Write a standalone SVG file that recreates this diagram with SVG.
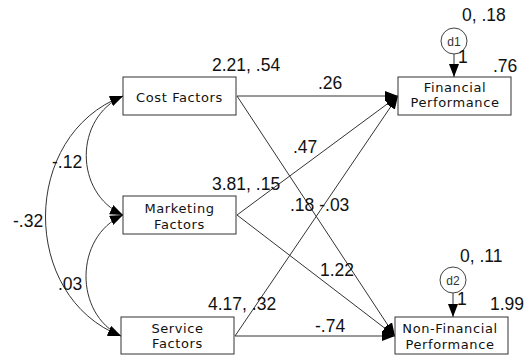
<svg xmlns="http://www.w3.org/2000/svg" width="530" height="357" viewBox="0 0 530 357">
<defs>
<marker id="ah" markerUnits="userSpaceOnUse" markerWidth="14" markerHeight="11" refX="13" refY="5" orient="auto-start-reverse">
<path d="M0,0 L13,5 L0,10 z" fill="#000"/>
</marker>
<style>
.box{fill:#fff;stroke:#333;stroke-width:1}
.lbl{font-family:"DejaVu Sans",sans-serif;font-size:13px;letter-spacing:0.6px;fill:#111;text-anchor:middle}
.num{font-family:"Liberation Sans",Arial,sans-serif;font-size:17.5px;fill:#111}
.ln{fill:none;stroke:#333;stroke-width:1}
.err{fill:#fff;stroke:#444;stroke-width:1}
.et{font-family:"Liberation Sans",Arial,sans-serif;font-size:12px;fill:#333;text-anchor:middle}
</style>
</defs>
<rect width="530" height="357" fill="#fff"/>
<g id="connectors">
<line class="ln" x1="237" y1="96" x2="398" y2="96" marker-end="url(#ah)"/>
<line class="ln" x1="237" y1="96" x2="395" y2="336" marker-end="url(#ah)"/>
<line class="ln" x1="237" y1="215" x2="398" y2="96" marker-end="url(#ah)"/>
<line class="ln" x1="237" y1="215" x2="395" y2="336" marker-end="url(#ah)"/>
<line class="ln" x1="235" y1="336" x2="398" y2="96" marker-end="url(#ah)"/>
<line class="ln" x1="235" y1="336" x2="395" y2="336" marker-end="url(#ah)"/>
<line class="ln" x1="454" y1="54" x2="454" y2="77" marker-end="url(#ah)"/>
<line class="ln" x1="453" y1="293" x2="453" y2="317" marker-end="url(#ah)"/>
<path class="ln" d="M123,96 C74,118 74,193 123,215" marker-start="url(#ah)" marker-end="url(#ah)"/>
<path class="ln" d="M123,215 C74,237 74,314 121,336" marker-start="url(#ah)" marker-end="url(#ah)"/>
<path class="ln" d="M123,96 C20,135 20,297 121,336" marker-start="url(#ah)" marker-end="url(#ah)"/>
</g>
<g id="cost">
<rect class="box" x="123" y="77" width="113" height="38"/>
<text class="lbl" x="179.5" y="101.5">Cost Factors</text>
<text class="num" x="212" y="71">2.21, .54</text>
</g>
<g id="marketing">
<rect class="box" x="123" y="196" width="113" height="38"/>
<text class="lbl" x="179.5" y="213">Marketing</text>
<text class="lbl" x="179.5" y="228.5">Factors</text>
<text class="num" x="212" y="190">3.81, .15</text>
</g>
<g id="service">
<rect class="box" x="121" y="317" width="113" height="37"/>
<text class="lbl" x="177.5" y="332.5">Service</text>
<text class="lbl" x="177.5" y="348">Factors</text>
<text class="num" x="208" y="310">4.17, .32</text>
</g>
<g id="financial">
<rect class="box" x="398" y="77" width="113" height="38"/>
<text class="lbl" x="455" y="91.5">Financial</text>
<text class="lbl" x="455" y="107">Performance</text>
<text class="num" x="493" y="72">.76</text>
</g>
<g id="nonfinancial">
<rect class="box" x="395" y="317" width="113" height="37"/>
<text class="lbl" x="450" y="333">Non-Financial</text>
<text class="lbl" x="450" y="348.5">Performance</text>
<text class="num" x="490" y="310">1.99</text>
</g>
<g id="d1">
<circle class="err" cx="454" cy="41" r="13"/>
<text class="et" x="454" y="45.5">d1</text>
<text class="num" x="462" y="21">0, .18</text>
<text class="num" x="458" y="63">1</text>
</g>
<g id="d2">
<circle class="err" cx="453" cy="280" r="13"/>
<text class="et" x="453" y="284.5">d2</text>
<text class="num" x="460" y="262">0, .11</text>
<text class="num" x="457" y="305">1</text>
</g>
<g id="edge-labels">
<text class="num" x="318" y="89">.26</text>
<text class="num" x="293" y="153">.47</text>
<text class="num" x="290" y="211">.18 -.03</text>
<text class="num" x="320" y="276">1.22</text>
<text class="num" x="315" y="332">-.74</text>
<text class="num" x="52" y="168">-.12</text>
<text class="num" x="13" y="227">-.32</text>
<text class="num" x="58" y="290">.03</text>
</g>
</svg>
